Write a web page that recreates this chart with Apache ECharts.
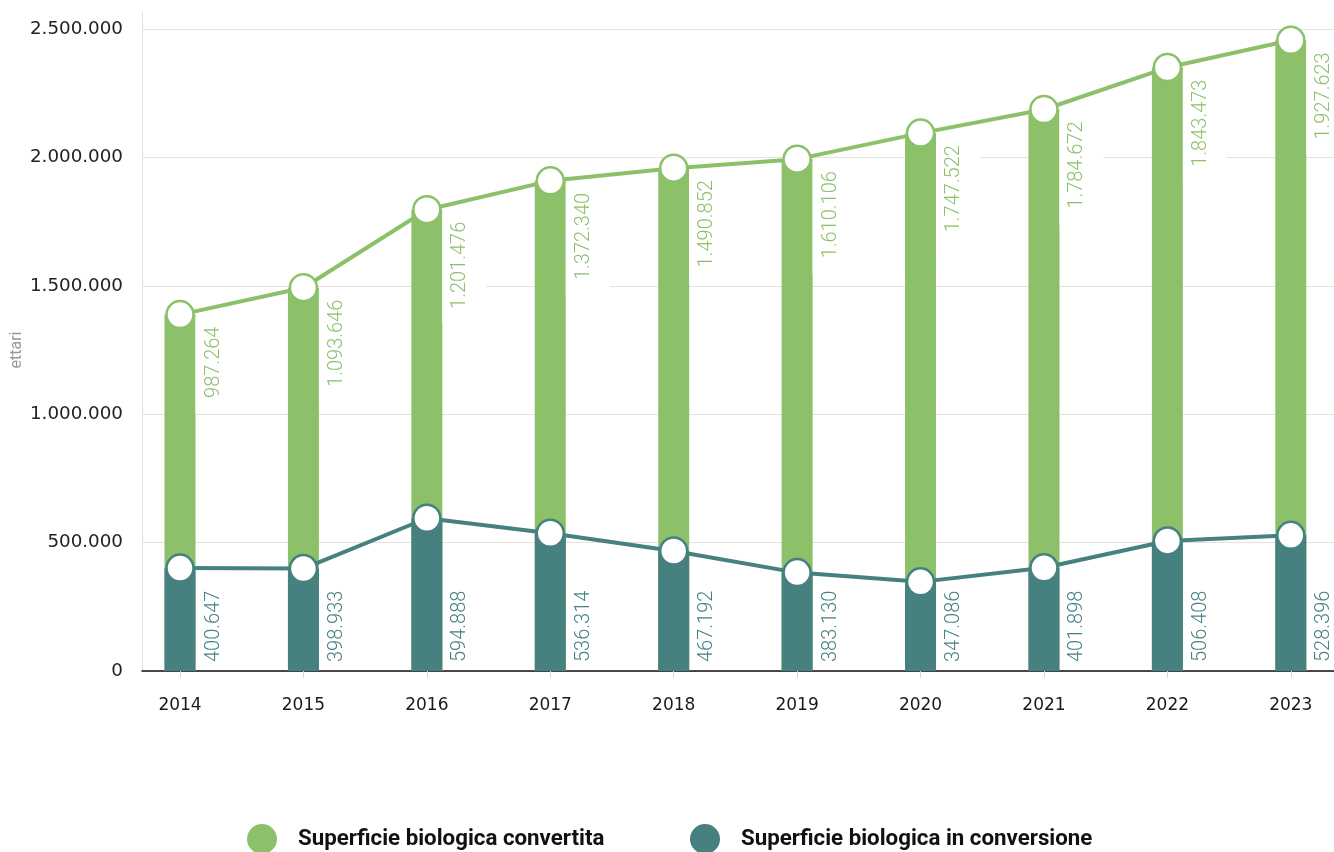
<!DOCTYPE html>
<html><head><meta charset="utf-8">
<script src="https://cdn.jsdelivr.net/npm/echarts@6/dist/echarts.min.js"></script>
<style>html,body{margin:0;padding:0;background:#fff}#c{width:1334px;height:852px}</style>
</head><body><div id="c"></div>
<script>
const years = [2014, 2015, 2016, 2017, 2018, 2019, 2020, 2021, 2022, 2023];
const convertita = [987264, 1093646, 1201476, 1372340, 1490852, 1610106, 1747522, 1784672, 1843473, 1927623];
const inConversione = [400647, 398933, 594888, 536314, 467192, 383130, 347086, 401898, 506408, 528396];
const yTicks = [0, 500000, 1000000, 1500000, 2000000, 2500000];
const seriesNames = ['Superficie biologica convertita', 'Superficie biologica in conversione'];

const GREEN = '#8cc16a', TEAL = '#468180', GRID = '#e6e2da';
const fmt = v => String(Math.round(v)).replace(/\B(?=(\d{3})+(?!\d))/g, '.');
// total surface = converted + in conversion (top of the stacked column)
const totals = years.map((y, i) => convertita[i] + inConversione[i]);
const pairs = arr => years.map((y, i) => [y, arr[i]]);

const chart = echarts.init(document.getElementById('c'), null, {renderer: 'canvas'});
chart.setOption({
  animation: false,
  backgroundColor: '#fff',
  grid: {left: 142, right: 0, top: 29, bottom: 181, containLabel: false, outerBoundsMode: 'none'},
  xAxis: {
    type: 'value', min: 2013.692, max: 2023.35,
    splitLine: {show: false},
    axisLine: {show: true, lineStyle: {color: '#111', width: 1.5}},
    axisTick: {show: true, customValues: years, length: 7, lineStyle: {color: '#dcd8d0'}},
    axisLabel: {customValues: years, formatter: v => String(v), margin: 26, fontSize: 17,
      color: '#1a1a1a', fontFamily: 'DejaVu Sans'}
  },
  yAxis: {
    type: 'value', min: yTicks[0], max: yTicks[yTicks.length - 1], interval: yTicks[1] - yTicks[0],
    axisLine: {show: true, lineStyle: {color: GRID}},
    axisTick: {show: false},
    splitLine: {show: true, lineStyle: {color: GRID, width: 1}},
    axisLabel: {formatter: fmt, margin: 19, fontSize: 18.3, color: '#222', fontFamily: 'DejaVu Sans'},
    name: 'ettari', nameLocation: 'middle', nameGap: 117, nameMoveOverlap: false,
    nameTextStyle: {fontSize: 16, color: '#999', fontFamily: 'Roboto'}
  },
  legend: [
    {data: [seriesNames[0]], left: 247, top: 824, padding: 0, icon: 'circle', itemWidth: 30, itemHeight: 30,
      selectedMode: false,
      textStyle: {fontFamily: 'Roboto', fontSize: 22.3, fontWeight: 'bold', color: '#111', padding: [0, 0, 0, 16]}},
    {data: [seriesNames[1]], left: 690, top: 824, padding: 0, icon: 'circle', itemWidth: 30, itemHeight: 30,
      selectedMode: false,
      textStyle: {fontFamily: 'Roboto', fontSize: 22.3, fontWeight: 'bold', color: '#111', padding: [0, 0, 0, 16]}}
  ],
  graphic: [{type: 'line', shape: {x1: 142.5, y1: 12, x2: 142.5, y2: 29}, style: {stroke: GRID, lineWidth: 1}, silent: true}],
  series: [
    {
      // full column height (converted part visible above the in-conversion part)
      name: seriesNames[0], type: 'bar', barWidth: 31, barGap: '-100%', z: 2,
      itemStyle: {color: GREEN},
      data: pairs(totals),
      label: {show: true, position: ['100%', 2], rotate: 90, align: 'right', verticalAlign: 'top',
        padding: [8, 10, 16, 16], backgroundColor: '#fff',
        formatter: p => fmt(convertita[p.dataIndex]), color: GREEN, fontSize: 20, fontWeight: 300, fontFamily: 'Roboto'}
    },
    {
      name: seriesNames[1], type: 'bar', barWidth: 31, barGap: '-100%', z: 3,
      itemStyle: {color: TEAL},
      data: pairs(inConversione),
      label: {show: true, position: ['100%', '100%'], rotate: 90, align: 'left', verticalAlign: 'top',
        padding: [8, 0, 0, 9], formatter: p => fmt(p.value[1]), color: TEAL, fontSize: 20, fontWeight: 300, fontFamily: 'Roboto'}
    },
    {
      name: 'conv-line', type: 'line', z: 5, data: pairs(inConversione),
      lineStyle: {color: TEAL, width: 4}, symbol: 'circle', symbolSize: 27,
      itemStyle: {color: '#fff', borderColor: TEAL, borderWidth: 2.5}
    },
    {
      name: 'tot-line', type: 'line', z: 5, data: pairs(totals),
      lineStyle: {color: GREEN, width: 4}, symbol: 'circle', symbolSize: 27,
      itemStyle: {color: '#fff', borderColor: GREEN, borderWidth: 2.5}
    }
  ]
});
</script></body></html>
